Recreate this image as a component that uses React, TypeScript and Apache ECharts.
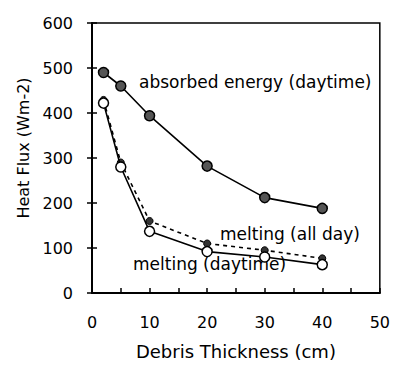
import React, { useEffect, useRef } from "react";
import * as echarts from "echarts";

const thickness = [2, 5, 10, 20, 30, 40];
const absorbedDaytime = [490, 460, 394, 282, 212, 188];
const meltingAllDay = [429, 290, 160, 110, 95, 77];
const meltingDaytime = [422, 280, 137, 92, 80, 63];
const xTicks = [0, 10, 20, 30, 40, 50];
const yTicks = [0, 100, 200, 300, 400, 500, 600];

const FONT = "DejaVu Sans, Verdana, sans-serif";

function pairs(ys: number[]) {
  return thickness.map((x, i) => [x, ys[i]]);
}

export default function App() {
  const ref = useRef<HTMLDivElement>(null);
  useEffect(() => {
    if (!ref.current) return;
    const chart = echarts.init(ref.current, null, { renderer: "svg" });
    chart.setOption({
      animation: false,
      backgroundColor: "#ffffff",
      textStyle: { fontFamily: FONT },
      grid: {
        left: 92,
        right: 11,
        top: 23,
        bottom: 74,
        show: true,
        borderColor: "#000",
        borderWidth: 1.5,
      },
      xAxis: {
        type: "value",
        min: xTicks[0],
        max: xTicks[xTicks.length - 1],
        interval: 10,
        name: "Debris Thickness (cm)",
        nameLocation: "middle",
        nameGap: 49,
        nameTextStyle: { fontSize: 18, color: "#000", fontFamily: FONT },
        axisLine: { lineStyle: { color: "#000", width: 2 } },
        axisTick: { inside: true, length: 5, lineStyle: { color: "#000", width: 1.5 } },
        minorTick: { show: true, splitNumber: 2, length: 5, lineStyle: { color: "#000", width: 1.5 } },
        splitLine: { show: false },
        axisLabel: { fontSize: 16, color: "#000", margin: 21, fontFamily: FONT },
      },
      yAxis: [
        {
          type: "value",
          min: yTicks[0],
          max: yTicks[yTicks.length - 1],
          interval: 100,
          axisLine: { lineStyle: { color: "#000", width: 2 } },
          axisTick: { inside: false, length: 5, lineStyle: { color: "#000", width: 1.5 } },
          splitLine: { show: false },
          axisLabel: { fontSize: 16, color: "#000", margin: 19, fontFamily: FONT },
        },
        {
          type: "value",
          position: "left",
          min: yTicks[0],
          max: yTicks[yTicks.length - 1],
          interval: 100,
          axisLine: { show: false },
          axisTick: { inside: true, length: 5, lineStyle: { color: "#000", width: 1.5 } },
          splitLine: { show: false },
          axisLabel: { show: false },
        },
      ],
      series: [
        {
          name: "absorbed energy (daytime)",
          type: "line",
          data: pairs(absorbedDaytime),
          symbol: "circle",
          symbolSize: 10,
          lineStyle: { color: "#000", width: 1.6 },
          itemStyle: { color: "#555", borderColor: "#000", borderWidth: 1.5 },
        },
        {
          name: "melting (all day)",
          type: "line",
          data: pairs(meltingAllDay),
          symbol: "circle",
          symbolSize: 7,
          lineStyle: { color: "#000", width: 1.6, type: [4, 4] },
          itemStyle: { color: "#333", borderColor: "#000", borderWidth: 1 },
          z: 3,
        },
        {
          name: "melting (daytime)",
          type: "line",
          data: pairs(meltingDaytime),
          symbol: "circle",
          symbolSize: 10,
          lineStyle: { color: "#000", width: 1.6 },
          itemStyle: { color: "#fff", borderColor: "#000", borderWidth: 1.5 },
          z: 4,
        },
      ],
      graphic: [
        {
          type: "text",
          x: 23,
          y: 148,
          rotation: Math.PI / 2,
          style: {
            text: "Heat Flux (Wm-2)",
            fontSize: 16,
            fill: "#000",
            fontFamily: FONT,
            align: "center",
            verticalAlign: "middle",
          },
        },
        {
          type: "text",
          left: 139,
          top: 73,
          style: { text: "absorbed energy (daytime)", fontSize: 17, fill: "#000", fontFamily: FONT },
        },
        {
          type: "text",
          left: 220,
          top: 225,
          style: { text: "melting (all day)", fontSize: 17, fill: "#000", fontFamily: FONT },
        },
        {
          type: "text",
          left: 133,
          top: 255,
          style: { text: "melting (daytime)", fontSize: 17, fill: "#000", fontFamily: FONT },
        },
      ],
    });
    return () => chart.dispose();
  }, []);
  return (
    <div
      ref={ref}
      style={{ position: "fixed", left: 0, top: 0, width: 393, height: 367 }}
    />
  );
}
